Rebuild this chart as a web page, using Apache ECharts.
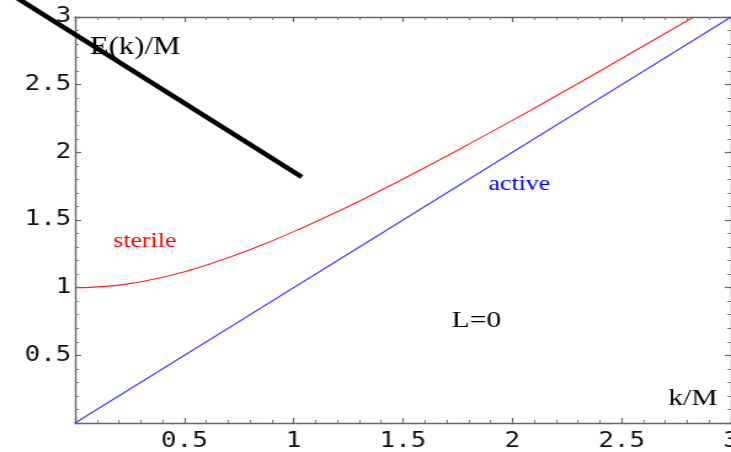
<!DOCTYPE html>
<html>
<head>
<meta charset="utf-8">
<script src="https://cdn.jsdelivr.net/npm/echarts@6/dist/echarts.min.js"></script>
<style>
  html, body { margin: 0; padding: 0; background: #fff; overflow: hidden; }
  /* the figure is laid out narrow and widened horizontally */
  #chart { width: 594px; height: 452px; transform: scaleX(1.2306); transform-origin: 0 0; }
</style>
</head>
<body>
<div id="chart"></div>
<script>
// Dispersion relations E(k)/M versus k/M
const kSterile = [0, 0.125, 0.25, 0.375, 0.5, 0.625, 0.75, 0.875, 1.0, 1.125, 1.25, 1.375, 1.5,
                  1.75, 2.0, 2.25, 2.5, 2.75, 2.83];
const eSterile = [1.00, 1.008, 1.03, 1.068, 1.118, 1.18, 1.25, 1.329, 1.414, 1.505, 1.60, 1.70, 1.803,
                  2.016, 2.236, 2.462, 2.693, 2.926, 3.00];
const kActive = [0, 3];
const eActive = [0, 3];
// thick pointer line running in from the upper left
const kPointer = [-0.40, 1.037];
const ePointer = [3.277, 1.818];
const tickValues = [0.5, 1, 1.5, 2, 2.5, 3];

const zip = (a, b) => a.map((v, i) => [v, b[i]]);

const chart = echarts.init(document.getElementById('chart'), null, { renderer: 'canvas' });

const tickFont = { fontFamily: 'DejaVu Sans Mono', fontSize: 21, color: '#111' };
const fmt = v => (tickValues.indexOf(+v) >= 0 ? String(v) : '');
const frameLine = { show: true, onZero: false, lineStyle: { color: '#666', width: 1.4 } };
const majorTick = { show: true, inside: true, length: 5, lineStyle: { color: '#666', width: 1.2 } };
const minorTick = { show: true, splitNumber: 5, length: 3, lineStyle: { color: '#777', width: 1 } };

const baseAxis = {
  type: 'value', min: 0, max: 3, interval: 0.5,
  axisLine: frameLine, axisTick: majorTick, minorTick: minorTick,
  splitLine: { show: false }, minorSplitLine: { show: false }
};

chart.setOption({
  animation: false,
  backgroundColor: '#fff',
  grid: { left: 61, right: 0, top: 17, bottom: 29, containLabel: false, outerBoundsMode: 'none' },
  xAxis: [
    Object.assign({}, baseAxis, { position: 'bottom',
      axisLabel: Object.assign({ margin: 8, formatter: fmt, showMaxLabel: true, hideOverlap: false }, tickFont) }),
    Object.assign({}, baseAxis, { position: 'top', axisLabel: { show: false } })
  ],
  yAxis: [
    Object.assign({}, baseAxis, { position: 'left',
      axisLabel: Object.assign({ margin: 3, formatter: fmt, showMaxLabel: true, hideOverlap: false }, tickFont) }),
    Object.assign({}, baseAxis, { position: 'right', axisLabel: { show: false } })
  ],
  series: [
    { name: 'sterile', type: 'line', data: zip(kSterile, eSterile), smooth: 0.4, showSymbol: false,
      lineStyle: { color: '#ff2020', width: 1.1 } },
    { name: 'active', type: 'line', data: zip(kActive, eActive), showSymbol: false,
      lineStyle: { color: '#3a3aff', width: 1.1 } }
  ],
  graphic: [
    { type: 'text', left: 73, top: 35, style: { text: 'E(k)/M', font: '25px "Liberation Serif"', fill: '#000' }, z: 1 },
    { type: 'text', left: 92, top: 231, style: { text: 'sterile', font: '21px "Liberation Serif"', fill: '#ff0000' } },
    { type: 'text', left: 397, top: 174, style: { text: 'active', font: '21px "Liberation Serif"', fill: '#0000ff' } },
    { type: 'text', left: 367, top: 309, style: { text: 'L=0', font: '24px "Liberation Serif"', fill: '#000' } },
    { type: 'text', left: 543, top: 387, style: { text: 'k/M', font: '24px "Liberation Serif"', fill: '#000' } }
  ]
});

// the pointer reaches past the frame, so it is drawn unclipped from axis coordinates
const p0 = chart.convertToPixel({ gridIndex: 0 }, [kPointer[0], ePointer[0]]);
const p1 = chart.convertToPixel({ gridIndex: 0 }, [kPointer[1], ePointer[1]]);
chart.setOption({
  graphic: [
    { id: 'pointer', type: 'line', z: 10,
      shape: { x1: p0[0], y1: p0[1], x2: p1[0], y2: p1[1] },
      style: { stroke: '#000', lineWidth: 4.5, lineCap: 'butt' } }
  ]
});
</script>
</body>
</html>
